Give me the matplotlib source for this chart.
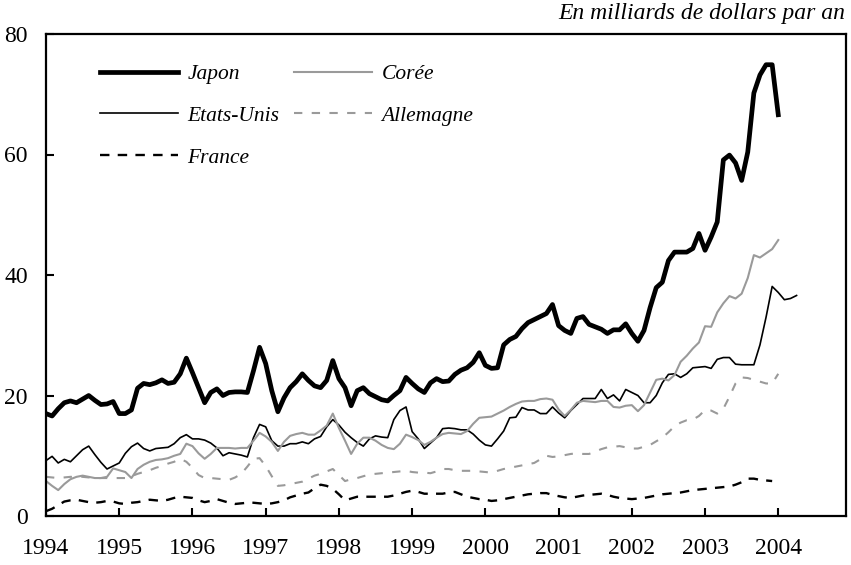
import matplotlib
matplotlib.use("Agg")
import matplotlib.pyplot as plt
import numpy as np

# monthly values, starting January 1994 (billions of dollars per year)
japon = [17.0, 16.6, 17.8, 18.8, 19.1, 18.8, 19.4, 20.0, 19.2, 18.5, 18.6, 19.0,
         17.0, 17.0, 17.6, 21.2, 22.0, 21.8, 22.1, 22.6, 22.0, 22.2, 23.6, 26.2,
         23.8, 21.3, 18.8, 20.5, 21.1, 20.0, 20.5, 20.6, 20.6, 20.5, 24.1, 28.0,
         25.3, 20.8, 17.3, 19.6, 21.3, 22.3, 23.6, 22.5, 21.6, 21.3, 22.5, 25.8,
         22.8, 21.3, 18.3, 20.8, 21.3, 20.3, 19.8, 19.3, 19.1, 20.0, 20.8, 23.0,
         22.0, 21.1, 20.5, 22.1, 22.8, 22.3, 22.4, 23.5, 24.2, 24.6, 25.5, 27.1,
         25.0, 24.5, 24.6, 28.4, 29.3, 29.8, 31.1, 32.1, 32.6, 33.1, 33.6, 35.1,
         31.6, 30.8, 30.3, 32.8, 33.1, 31.8, 31.4, 31.0, 30.3, 30.9, 30.9, 31.9,
         30.3, 29.0, 30.8, 34.6, 37.9, 38.8, 42.4, 43.8, 43.8, 43.8, 44.4, 46.9,
         44.1, 46.3, 48.8, 59.1, 59.9, 58.6, 55.7, 60.4, 70.2, 73.2, 74.9, 74.9,
         66.6]

coree = [5.8, 5.0, 4.3, 5.3, 6.1, 6.5, 6.7, 6.5, 6.3, 6.3, 6.5, 7.9,
         7.6, 7.3, 6.3, 7.8, 8.5, 9.0, 9.3, 9.4, 9.6, 10.0, 10.3, 12.0,
         11.6, 10.4, 9.5, 10.3, 11.3, 11.3, 11.3, 11.2, 11.3, 11.3, 12.5, 13.8,
         13.2, 12.3, 10.8, 12.3, 13.3, 13.6, 13.8, 13.5, 13.5, 14.2, 15.0, 17.0,
         14.6, 12.5, 10.3, 12.0, 13.0, 13.0, 12.5, 11.8, 11.3, 11.1, 12.0, 13.5,
         13.1, 12.6, 11.8, 12.3, 13.0, 13.6, 13.8, 13.7, 13.6, 14.1, 15.3, 16.3,
         16.4, 16.5, 17.0, 17.5, 18.1, 18.6, 19.0, 19.1, 19.1, 19.4, 19.5, 19.3,
         17.7, 16.6, 17.6, 18.8, 19.1, 19.0, 18.9, 19.1, 19.1, 18.1, 18.0, 18.3,
         18.4, 17.4, 18.4, 20.5, 22.6, 22.8, 22.5, 23.4, 25.6, 26.6, 27.8, 28.8,
         31.5, 31.4, 33.8, 35.3, 36.5, 36.1, 36.9, 39.5, 43.3, 42.9, 43.6, 44.3,
         45.8]

etats_unis = [9.2, 9.9, 8.8, 9.4, 9.0, 10.0, 11.0, 11.6, 10.2, 8.9, 7.8, 8.3,
              8.8, 10.4, 11.5, 12.1, 11.2, 10.8, 11.2, 11.3, 11.4, 12.0, 13.0, 13.5,
              12.8, 12.8, 12.6, 12.1, 11.3, 10.0, 10.5, 10.3, 10.1, 9.8, 13.0, 15.2,
              14.8, 12.5, 11.6, 11.6, 12.0, 12.0, 12.3, 12.0, 12.8, 13.2, 14.8, 16.0,
              15.1, 13.9, 13.0, 12.2, 11.6, 12.8, 13.3, 13.1, 13.0, 16.0, 17.5, 18.1,
              14.0, 12.8, 11.2, 12.1, 13.0, 14.5, 14.6, 14.5, 14.3, 14.3, 13.6, 12.6,
              11.8, 11.6, 12.8, 14.1, 16.3, 16.4, 18.0, 17.6, 17.6, 17.0, 17.0, 18.1,
              17.1, 16.3, 17.5, 18.5, 19.5, 19.5, 19.5, 21.0, 19.5, 20.1, 19.1, 21.0,
              20.5, 20.0, 18.8, 18.8, 20.0, 22.1, 23.5, 23.6, 23.0, 23.6, 24.6, 24.7,
              24.8, 24.5, 26.0, 26.3, 26.3, 25.2, 25.1, 25.1, 25.1, 28.4, 33.0, 38.1,
              37.1, 35.9, 36.1, 36.6]

allemagne = [6.5, 6.4, 6.3, 6.4, 6.5, 6.5, 6.5, 6.4, 6.3, 6.3, 6.3, 6.3,
             6.3, 6.3, 6.6, 7.0, 7.3, 7.6, 8.0, 8.3, 8.7, 9.0, 9.5, 9.0,
             8.0, 6.8, 6.3, 6.3, 6.2, 6.1, 6.0, 6.4, 7.0, 8.2, 9.5, 9.6,
             8.3, 6.6, 5.0, 5.1, 5.3, 5.5, 5.7, 6.2, 6.7, 7.0, 7.4, 7.8,
             6.8, 5.8, 6.1, 6.3, 6.6, 6.9, 7.0, 7.1, 7.2, 7.3, 7.4, 7.5,
             7.3, 7.2, 7.2, 7.1, 7.4, 7.8, 7.8, 7.6, 7.5, 7.5, 7.5, 7.4,
             7.3, 7.2, 7.5, 7.8, 8.0, 8.2, 8.4, 8.6, 8.8, 9.4, 10.0, 9.8,
             9.9, 10.1, 10.3, 10.4, 10.3, 10.3, 10.7, 11.1, 11.4, 11.5, 11.6, 11.4,
             11.2, 11.2, 11.5, 11.8, 12.4, 13.0, 13.9, 14.9, 15.5, 15.9, 16.0, 16.6,
             17.6, 17.5, 17.0, 17.8, 19.8, 22.0, 23.0, 22.9, 22.6, 22.3, 22.0, 22.0,
             23.6]

france = [0.8, 1.2, 1.8, 2.4, 2.6, 2.7, 2.5, 2.3, 2.2, 2.3, 2.5, 2.4,
          2.1, 2.0, 2.2, 2.3, 2.5, 2.7, 2.6, 2.5, 2.7, 3.0, 3.2, 3.1,
          3.0, 2.6, 2.3, 2.5, 2.8, 2.5, 2.2, 2.0, 2.1, 2.2, 2.2, 2.1,
          2.0, 2.1, 2.3, 2.6, 3.1, 3.4, 3.7, 3.9, 4.6, 5.2, 5.0, 4.5,
          3.6, 2.6, 2.9, 3.2, 3.2, 3.2, 3.2, 3.2, 3.2, 3.4, 3.7, 4.0,
          4.2, 4.0, 3.7, 3.7, 3.7, 3.7, 3.9, 4.0, 3.6, 3.2, 3.0, 2.8,
          2.7, 2.5, 2.6, 2.8, 3.0, 3.2, 3.4, 3.6, 3.7, 3.8, 3.8, 3.5,
          3.3, 3.1, 3.0, 3.2, 3.4, 3.5, 3.6, 3.7, 3.5, 3.2, 3.0, 2.9,
          2.8, 2.9, 3.0, 3.2, 3.4, 3.6, 3.7, 3.8, 3.9, 4.1, 4.3, 4.4,
          4.5, 4.6, 4.7, 4.8, 4.9, 5.2, 5.6, 6.2, 6.2, 6.0, 5.9, 5.8]

years = list(range(1994, 2005))

plt.rcParams['font.family'] = ['Liberation Serif', 'DejaVu Serif']

fig = plt.figure(figsize=(8.51, 5.65), dpi=100)
ax = fig.add_axes([46 / 851, 1 - 516 / 565, 800 / 851, 482 / 565])

grey = '#9a9a9a'
ax.plot(np.arange(len(japon)), japon, color='black', lw=3.4, label='Japon',
        solid_joinstyle='round')
ax.plot(np.arange(len(etats_unis)), etats_unis, color='black', lw=1.2, label='Etats-Unis')
ax.plot(np.arange(len(france)), france, color='black', lw=1.7, ls=(0, (4, 3.5)),
        label='France')
ax.plot(np.arange(len(coree)), coree, color=grey, lw=1.5, label='Corée')
ax.plot(np.arange(len(allemagne)), allemagne, color=grey, lw=1.5, ls=(0, (4, 4.5)),
        label='Allemagne')

ax.set_xlim(0, 131.1)
ax.set_ylim(0, 80)
ax.set_yticks([0, 20, 40, 60, 80])
ax.set_xticks([12 * i for i in range(len(years))])
ax.set_xticklabels([str(y) for y in years])

for s in ax.spines.values():
    s.set_linewidth(1.6)
ax.tick_params(axis='both', direction='in', length=6, width=1.5, labelsize=17)
ax.tick_params(axis='x', pad=16)
ax.tick_params(axis='y', pad=13)

leg = ax.legend(ncol=2, loc='upper left', bbox_to_anchor=(0.0675, 0.937),
                frameon=False, borderpad=0, borderaxespad=0,
                handlelength=3.6, handletextpad=0.45, columnspacing=0.7,
                labelspacing=1.0, prop={'style': 'italic', 'size': 15.5})

fig.text(845 / 851, 1 - 14 / 565, 'En milliards de dollars par an',
         ha='right', va='center', fontsize=17, style='italic')

fig.savefig('out.png', dpi=100)
